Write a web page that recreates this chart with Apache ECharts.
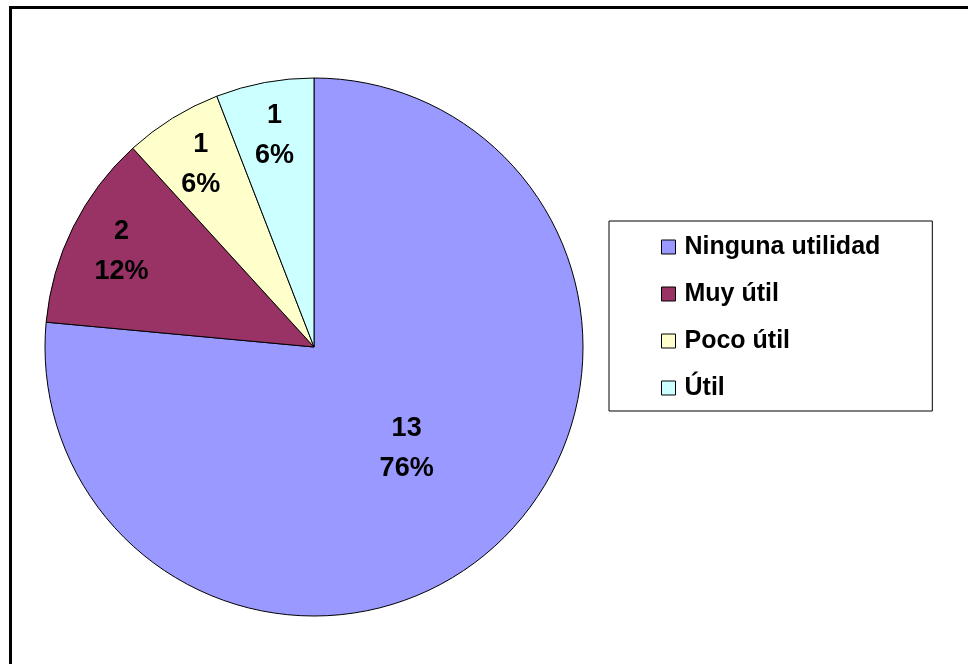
<!DOCTYPE html>
<html>
<head>
<meta charset="utf-8">
<script src="https://cdn.jsdelivr.net/npm/echarts@6/dist/echarts.min.js"></script>
<style>
  html, body { margin: 0; padding: 0; background: #fff; }
  #chart { width: 968px; height: 664px; position: absolute; left: 0; top: 0; }
  #frame { position: absolute; left: 9px; top: 6px; width: 980px; height: 700px;
           border-top: 3px solid #000; border-left: 3px solid #000; pointer-events: none; }
</style>
</head>
<body>
<div id="chart"></div>
<div id="frame"></div>
<script>
// ---- data ----
const categories = ['Ninguna utilidad', 'Muy útil', 'Poco útil', 'Útil'];
const values = [13, 2, 1, 1];
const colors = ['#9999FF', '#993366', '#FFFFCC', '#CCFFFF'];
// which slices carry their label near the rim (small slices)
const rimLabel = [false, true, true, true];

const fontFamily = "'Liberation Sans', Arial, sans-serif";
const labelFmt = p => p.value + '\n' + Math.round(p.percent) + '%';

const mainData = categories.map((name, i) => ({
  name: name,
  value: values[i],
  itemStyle: { color: colors[i] },
  label: { show: !rimLabel[i] }
}));
const rimData = categories.map((name, i) => ({
  name: name,
  value: values[i],
  label: { show: rimLabel[i] }
}));

const labelStyle = {
  position: 'inside',
  formatter: labelFmt,
  color: '#000',
  fontFamily: fontFamily,
  fontSize: 27,
  lineHeight: 40,
  fontWeight: 'bold'
};

const chart = echarts.init(document.getElementById('chart'), null, { renderer: 'canvas' });
chart.setOption({
  animation: false,
  backgroundColor: '#fff',
  legend: {
    data: categories,
    orient: 'vertical',
    left: 609,
    top: 221,
    padding: [13, 52, 10, 52],
    itemGap: 21,
    itemWidth: 14,
    itemHeight: 14,
    icon: 'rect',
    borderColor: '#000',
    borderWidth: 1,
    backgroundColor: '#fff',
    selectedMode: false,
    textStyle: {
      color: '#000',
      fontFamily: fontFamily,
      fontSize: 25,
      fontWeight: 'bold',
      lineHeight: 26,
      padding: [0, 0, 0, 4]
    },
    itemStyle: { borderColor: '#000', borderWidth: 1 }
  },
  series: [
    {
      name: 'main',
      type: 'pie',
      center: [314, 347],
      radius: [0, 269],
      startAngle: 90,
      clockwise: true,
      avoidLabelOverlap: false,
      itemStyle: { borderColor: '#000', borderWidth: 1 },
      label: labelStyle,
      labelLine: { show: false },
      emphasis: { disabled: true },
      data: mainData
    },
    {
      name: 'rimLabels',
      type: 'pie',
      center: [314, 347],
      radius: [0, 424],
      startAngle: 90,
      clockwise: true,
      silent: true,
      avoidLabelOverlap: false,
      itemStyle: { color: 'rgba(0,0,0,0)', borderWidth: 0 },
      label: labelStyle,
      labelLine: { show: false },
      emphasis: { disabled: true },
      data: rimData,
      z: 3
    }
  ]
});
</script>
</body>
</html>
